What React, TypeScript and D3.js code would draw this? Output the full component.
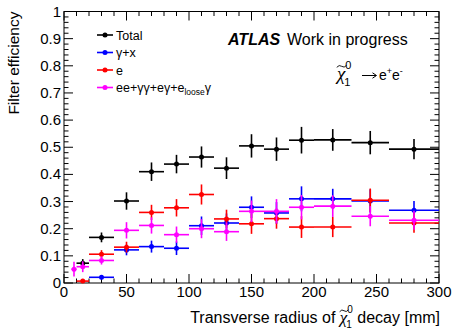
import { useEffect, useRef } from "react";
import * as d3 from "d3";

// bin edges in mm (transverse decay radius)
const binEdges = [6, 10, 20, 40, 60, 80, 100, 120, 140, 160, 180, 200, 230, 260, 300];

const totalValues = [null, 0.073, 0.168, 0.302, 0.41, 0.438, 0.464, 0.423, 0.505, 0.493, 0.526, 0.527, 0.517, 0.493];
const totalErrors = [0, 0.015, 0.018, 0.032, 0.034, 0.034, 0.039, 0.04, 0.043, 0.043, 0.049, 0.04, 0.043, 0.037];

const photonValues = [null, null, 0.021, 0.122, 0.134, 0.128, 0.211, 0.221, 0.279, 0.258, 0.31, 0.31, 0.302, 0.268];
const photonErrors = [0, 0, 0.008, 0.02, 0.022, 0.025, 0.034, 0.035, 0.04, 0.04, 0.046, 0.037, 0.043, 0.034];

const electronValues = [null, 0.007, 0.106, 0.132, 0.26, 0.277, 0.326, 0.236, 0.218, 0.237, 0.206, 0.206, 0.305, 0.221];
const electronErrors = [0, 0.005, 0.015, 0.02, 0.028, 0.032, 0.037, 0.034, 0.037, 0.037, 0.04, 0.037, 0.043, 0.036];

const comboValues = [0.051, 0.06, 0.083, 0.194, 0.212, 0.178, 0.2, 0.189, 0.264, 0.264, 0.279, 0.283, 0.246, 0.231];
const comboErrors = [0.027, 0.02, 0.015, 0.03, 0.03, 0.03, 0.035, 0.034, 0.04, 0.045, 0.045, 0.04, 0.037, 0.035];

const series = [
  { name: "Total", color: "#000000", values: totalValues, errors: totalErrors },
  { name: "γ+x", color: "#0000ff", values: photonValues, errors: photonErrors },
  { name: "e", color: "#ff0000", values: electronValues, errors: electronErrors },
  { name: "combo", color: "#ff00ff", values: comboValues, errors: comboErrors },
];

const W = 455;
const H = 329;
const M = { left: 64, right: 439, top: 11.5, bottom: 283 };
const SANS = "'Liberation Sans', Arial, Helvetica, sans-serif";
const SERIF = "'Liberation Serif', 'DejaVu Serif', serif";

type Sel = d3.Selection<SVGGElement, unknown, null, undefined>;

// draws a tilde-chi with sub 1 and sup 0, returns advance width
function drawChi(g: Sel, x: number, base: number, size: number, script: number) {
  const chi = g
    .append("text")
    .attr("x", x)
    .attr("y", base)
    .attr("font-family", SERIF)
    .attr("font-style", "italic")
    .attr("font-size", size)
    .text("χ");
  const w = (chi.node() as SVGTextElement).getComputedTextLength();
  const cx = x + w / 2 + 0.5;
  const ty = base - size * 0.72;
  const hw = size * 0.26;
  g.append("path")
    .attr("d", `M${cx - hw},${ty + 1} Q${cx - hw / 2},${ty - 2} ${cx},${ty} Q${cx + hw / 2},${ty + 2} ${cx + hw},${ty - 1}`)
    .attr("fill", "none")
    .attr("stroke", "#000")
    .attr("stroke-width", 0.9);
  const sx = x + w;
  const sup = g
    .append("text")
    .attr("x", sx)
    .attr("y", base - size * 0.6)
    .attr("font-family", SANS)
    .attr("font-size", script)
    .text("0");
  g.append("text")
    .attr("x", sx - 1)
    .attr("y", base + size * 0.3)
    .attr("font-family", SANS)
    .attr("font-size", script)
    .text("1");
  return w + (sup.node() as SVGTextElement).getComputedTextLength();
}

function addText(g: Sel, x: number, base: number, size: number, t: string, family = SANS) {
  const el = g
    .append("text")
    .attr("x", x)
    .attr("y", base)
    .attr("font-family", family)
    .attr("font-size", size)
    .style("white-space", "pre")
    .text(t);
  return (el.node() as SVGTextElement).getComputedTextLength();
}

export default function App() {
  const svgRef = useRef<SVGSVGElement>(null);

  useEffect(() => {
    if (!svgRef.current) return;
    const svg = d3.select(svgRef.current);
    svg.selectAll("*").remove();

    const x = d3.scaleLinear().domain([0, 300]).range([M.left, M.right]);
    const y = d3.scaleLinear().domain([0, 1]).range([M.bottom, M.top]);

    svg.append("rect").attr("width", W).attr("height", H).attr("fill", "#fff");

    // frame
    svg
      .append("rect")
      .attr("x", M.left)
      .attr("y", M.top)
      .attr("width", M.right - M.left)
      .attr("height", M.bottom - M.top)
      .attr("fill", "none")
      .attr("stroke", "#000")
      .attr("stroke-width", 1);

    const axes = svg.append("g").attr("stroke", "#000").attr("stroke-width", 1);

    // x ticks (bottom + top)
    d3.range(0, 301, 10).forEach((v) => {
      const len = v % 50 === 0 ? 9 : 4.5;
      axes.append("line").attr("x1", x(v)).attr("x2", x(v)).attr("y1", M.bottom).attr("y2", M.bottom - len);
      axes.append("line").attr("x1", x(v)).attr("x2", x(v)).attr("y1", M.top).attr("y2", M.top + len);
    });
    // y ticks (left + right)
    d3.range(0, 51).forEach((k) => {
      const v = k / 50;
      const len = k % 5 === 0 ? 9 : 4.5;
      axes.append("line").attr("y1", y(v)).attr("y2", y(v)).attr("x1", M.left).attr("x2", M.left + len);
      axes.append("line").attr("y1", y(v)).attr("y2", y(v)).attr("x1", M.right).attr("x2", M.right - len);
    });

    // tick labels
    svg
      .append("g")
      .selectAll("text")
      .data(d3.range(0, 301, 50))
      .join("text")
      .attr("x", (d) => x(d))
      .attr("y", 297)
      .attr("text-anchor", "middle")
      .attr("font-family", SANS)
      .attr("font-size", 15)
      .text((d) => d);

    svg
      .append("g")
      .selectAll("text")
      .data(d3.range(0, 11).map((k) => k / 10))
      .join("text")
      .attr("x", 61)
      .attr("y", (d) => y(d) + 5)
      .attr("text-anchor", "end")
      .attr("font-family", SANS)
      .attr("font-size", 15)
      .text((d) => (d === 0 ? "0" : d === 1 ? "1" : d.toFixed(1)));

    // y title
    svg
      .append("text")
      .attr("transform", `translate(19,${M.top}) rotate(-90)`)
      .attr("text-anchor", "end")
      .attr("font-family", SANS)
      .attr("font-size", 15.5)
      .text("Filter efficiency");

    // x title, built piece by piece then right-aligned
    const xt = svg.append("g");
    let cx = 0;
    const xb = 323;
    cx += addText(xt, cx, xb, 16, "Transverse radius of ");
    cx += drawChi(xt, cx, xb, 17, 10);
    cx += addText(xt, cx, xb, 16, " decay [mm]");
    xt.attr("transform", `translate(${M.right + 1 - cx},0)`);

    // data
    series.forEach((s) => {
      const g = svg
        .append("g")
        .attr("stroke", s.color)
        .attr("fill", s.color)
        .attr("stroke-width", 1.6);
      s.values.forEach((v, i) => {
        if (v === null) return;
        const e = s.errors[i];
        const x0 = binEdges[i];
        const x1 = binEdges[i + 1];
        const xc = (x0 + x1) / 2;
        g.append("line").attr("x1", x(x0)).attr("x2", x(x1)).attr("y1", y(v)).attr("y2", y(v));
        g.append("line").attr("x1", x(xc)).attr("x2", x(xc)).attr("y1", y(v - e)).attr("y2", y(v + e));
        g.append("circle").attr("cx", x(xc)).attr("cy", y(v)).attr("r", 2.5).attr("stroke", "none");
      });
    });

    // legend
    const lg = svg.append("g");
    const rows = [35, 52.5, 70, 87.5];
    series.forEach((s, i) => {
      const ly = rows[i];
      lg.append("line").attr("x1", 97).attr("x2", 113).attr("y1", ly).attr("y2", ly).attr("stroke", s.color).attr("stroke-width", 1.6);
      lg.append("circle").attr("cx", 105).attr("cy", ly).attr("r", 2.5).attr("fill", s.color);
    });
    addText(lg, 116, 39.5, 12.5, "Total");
    addText(lg, 116, 57, 12.5, "γ+x");
    addText(lg, 116, 74.5, 12.5, "e");
    let lx = 116;
    lx += addText(lg, lx, 92, 12.5, "ee+γγ+eγ+e");
    lx += addText(lg, lx, 95, 8.5, "loose");
    addText(lg, lx, 92, 12.5, "γ");

    // ATLAS label
    svg
      .append("text")
      .attr("x", 228)
      .attr("y", 45)
      .attr("font-family", SANS)
      .attr("font-size", 16)
      .attr("font-weight", "bold")
      .attr("font-style", "italic")
      .text("ATLAS");
    addText(svg as unknown as Sel, 287, 45, 16, "Work in progress");

    // process label
    const pg = svg.append("g");
    drawChi(pg, 337, 80, 19, 11);
    pg.append("path")
      .attr("d", "M362,75.5 L376,75.5 M372.5,72.8 L376.5,75.5 L372.5,78.2")
      .attr("fill", "none")
      .attr("stroke", "#000")
      .attr("stroke-width", 1);
    let px = 379;
    px += addText(pg, px, 80, 14, "e");
    px += addText(pg, px, 74, 9, "+");
    px += addText(pg, px, 80, 14, "e");
    addText(pg, px, 74, 9, "-");
  }, []);

  return (
    <svg
      ref={svgRef}
      width={W}
      height={H}
      style={{ position: "absolute", left: 0, top: 0 }}
    />
  );
}
